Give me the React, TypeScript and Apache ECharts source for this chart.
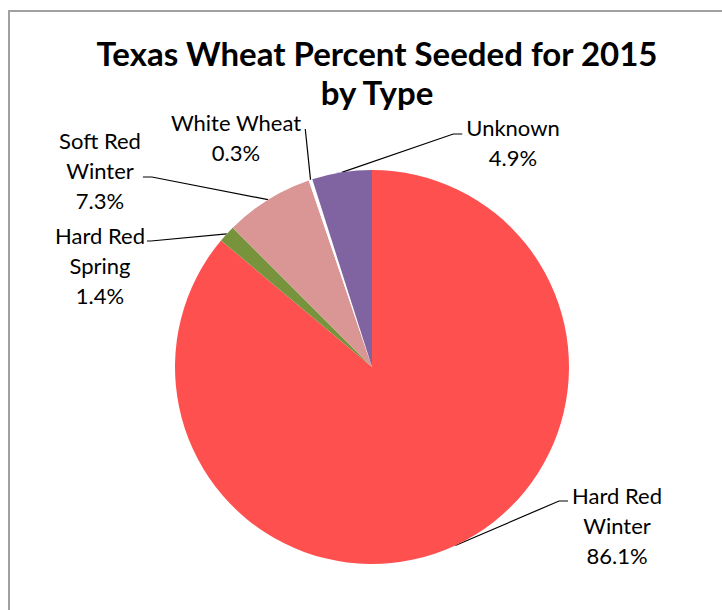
import React, { useEffect, useRef } from "react";
import * as echarts from "echarts";

// ---- data ----
const categories = ["Hard Red Winter", "Hard Red Spring", "Soft Red Winter", "White Wheat", "Unknown"];
const labelNames = ["Hard Red\nWinter", "Hard Red\nSpring", "Soft Red\nWinter", "White Wheat", "Unknown"];
const percents = [86.1, 1.4, 7.3, 0.3, 4.9];
const colors = ["#FF5050", "#77933C", "#D99694", "#FFFFFF", "#8064A2"];

// ---- label layout (positions of label centres, leader attach offsets) ----
const labelCenters: [number, number][] = [
  [617, 525],
  [100, 265],
  [100, 170],
  [236, 137],
  [513, 142],
];
const leaderDy = [-24, -24, 7, -8, -8];
const leaderTail = [9, 4, 9, 0, 9];

export default function App() {
  const ref = useRef<HTMLDivElement>(null);
  useEffect(() => {
    if (!ref.current) return;
    const chart = echarts.init(ref.current, null, { renderer: "svg" });
    const font = "Lato";
    chart.setOption({
      animation: false,
      backgroundColor: "#ffffff",
      title: {
        text: "Texas Wheat Percent Seeded for 2015\nby Type",
        left: 372,
        top: 28,
        textAlign: "center",
        textStyle: {
          fontFamily: font,
          fontWeight: "bold",
          fontSize: 33,
          lineHeight: 39,
          color: "#000000",
        },
      },
      graphic: [
        {
          type: "rect",
          shape: { x: 9, y: 11, width: 760, height: 650 },
          style: { fill: "none", stroke: "#a0a0a0", lineWidth: 2 },
          silent: true,
          z: -1,
        },
      ],
      series: [
        {
          type: "pie",
          center: [372, 367],
          radius: 197,
          startAngle: 90,
          clockwise: true,
          avoidLabelOverlap: false,
          minAngle: 0,
          data: categories.map((c, i) => ({
            name: c,
            value: percents[i],
            itemStyle: { color: colors[i] },
          })),
          itemStyle: { borderWidth: 0 },
          emphasis: { disabled: true },
          label: {
            show: true,
            position: "outside",
            formatter: (p: any) => `${labelNames[p.dataIndex]}\n${percents[p.dataIndex].toFixed(1)}%`,
            fontFamily: font,
            fontSize: 22,
            lineHeight: 30,
            color: "#000000",
            align: "center",
          },
          labelLine: {
            show: true,
            length: 10,
            length2: 10,
            lineStyle: { color: "#000000", width: 1.2 },
          },
          labelLayout: (params: any) => {
            const i = params.dataIndex;
            const [cx, cy] = labelCenters[i];
            const w = params.labelRect.width;
            const start = params.labelLinePoints ? params.labelLinePoints[0] : [cx, cy];
            const ay = cy + leaderDy[i];
            let ax: number;
            let tx: number;
            if (i === 3) {
              ax = cx + w / 2 + 4;
              tx = ax;
            } else if (cx < 372) {
              ax = cx + w / 2 + 2;
              tx = ax + leaderTail[i];
            } else {
              ax = cx - w / 2 - 4;
              tx = ax - leaderTail[i];
            }
            return {
              x: cx,
              y: cy,
              align: "center",
              verticalAlign: "middle",
              labelLinePoints: [start, [tx, ay], [ax, ay]],
            };
          },
        },
      ],
    });
    return () => chart.dispose();
  }, []);
  return <div ref={ref} style={{ position: "fixed", left: 0, top: 0, width: 722, height: 610 }} />;
}
